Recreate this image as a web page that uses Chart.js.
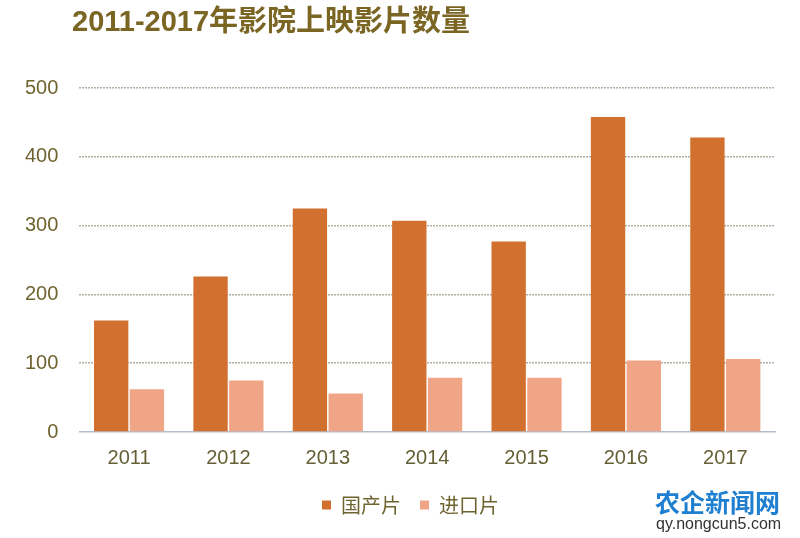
<!DOCTYPE html>
<html>
<head>
<meta charset="utf-8">
<script src="https://cdn.jsdelivr.net/npm/chart.js@4"></script>
<style>
    html, body { margin: 0; padding: 0; background: #fff; }
    #wrap { position: relative; width: 800px; height: 538px; }
    #title {
        position: absolute; left: 72px; top: -3px;
        font: bold 29px "Liberation Sans", "Noto Sans CJK SC", sans-serif;
        color: #7a6523; white-space: nowrap;
    }
    #mark1 {
        position: absolute; left: 655px; top: 483px;
        font: bold 25px "Noto Sans CJK SC", sans-serif; color: #1f7fd0;
        white-space: nowrap;
    }
    #mark2 {
        position: absolute; left: 656px; top: 515px;
        font: 16px "Liberation Sans", sans-serif; color: #333;
        white-space: nowrap;
    }
</style>
</head>
<body>
<div id="wrap">
    <canvas id="chart" width="800" height="538"></canvas>
    <div id="title">2011-2017年影院上映影片数量</div>
    <div id="mark1">农企新闻网</div>
    <div id="mark2">qy.nongcun5.com</div>
</div>
<script>
const years = ['2011', '2012', '2013', '2014', '2015', '2016', '2017'];
const domestic = [162, 226, 325, 307, 277, 458, 428];
const imported = [62, 75, 56, 79, 79, 104, 106];

const textColor = '#6f6430';

const chart = new Chart(document.getElementById('chart').getContext('2d'), {
    type: 'bar',
    data: {
        labels: years,
        datasets: [
            {
                label: '国产片',
                data: domestic,
                backgroundColor: '#d2702f'
            },
            {
                label: '进口片',
                data: imported,
                backgroundColor: '#f0a586'
            }
        ]
    },
    options: {
        responsive: false,
        animation: false,
        categoryPercentage: 0.72,
        barPercentage: 0.96,
        layout: {
            padding: { top: 88, right: 25, left: 4, bottom: 13 }
        },
        scales: {
            x: {
                grid: { display: false },
                border: { display: true, color: '#b3bdca', width: 1.5 },
                ticks: {
                    color: '#655f35',
                    padding: 6,
                    font: { family: 'Liberation Sans', size: 20 }
                }
            },
            y: {
                min: 0,
                max: 500,
                ticks: {
                    stepSize: 100,
                    padding: 21,
                    color: textColor,
                    font: { family: 'Liberation Sans', size: 20 }
                },
                grid: {
                    drawTicks: false,
                    color: function (ctx) {
                        return ctx.tick && ctx.tick.value === 0 ? 'rgba(0,0,0,0)' : '#b3b0a2';
                    },
                    lineWidth: 1.5
                },
                border: { display: false, dash: [2, 1] }
            }
        },
        plugins: {
            legend: {
                position: 'bottom',
                labels: {
                    boxWidth: 9,
                    boxHeight: 9,
                    padding: 19,
                    color: textColor,
                    font: { family: 'Noto Sans CJK SC', size: 20 }
                }
            },
            tooltip: { enabled: false }
        }
    }
});

// the legend in the original sits a bit right of centre
const legendDraw = chart.legend.draw;
chart.legend.draw = function () {
    chart.ctx.save();
    chart.ctx.translate(21, 0);
    legendDraw.apply(this, arguments);
    chart.ctx.restore();
};
chart.draw();
</script>
</body>
</html>
